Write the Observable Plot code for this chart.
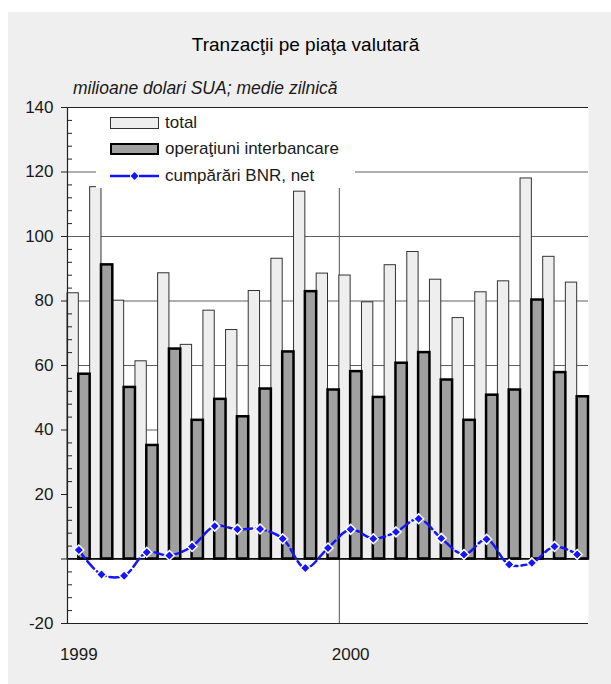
<!DOCTYPE html>
<html><head><meta charset="utf-8">
<script src="https://cdn.jsdelivr.net/npm/d3@7"></script>
<script src="https://cdn.jsdelivr.net/npm/@observablehq/plot@0.6"></script>
<style>
body{margin:0;background:#fff;font-family:"Liberation Sans",Arial,Helvetica,sans-serif;color:#1a1a1a;}
#panel{position:absolute;left:8px;top:12px;width:603px;height:672px;background:#efefef;}
#title{position:absolute;left:0;width:611px;top:33px;text-align:center;font-size:19px;line-height:24px;color:#000;}
#subtitle{position:absolute;left:73px;top:77px;font-size:17.5px;line-height:22px;font-style:italic;}
#chart{position:absolute;left:0;top:0;}
#legend{position:absolute;left:96px;top:108px;width:259px;height:80px;background:#fff;}
.row{position:absolute;left:0;height:20px;line-height:20px;font-size:17px;}
.row span{position:absolute;left:69px;top:0;white-space:nowrap;}
.sw{position:absolute;left:14px;box-sizing:border-box;width:49px;height:12px;top:4px;}
</style></head>
<body>
<div id="panel"></div>
<div id="chart"></div>
<div id="title">Tranzacţii pe piaţa valutară</div>
<div id="subtitle">milioane dolari SUA; medie zilnică</div>
<div id="legend">
  <div class="row" style="top:5px"><div class="sw" style="background:#eeeeee;border:1px solid #333"></div><span>total</span></div>
  <div class="row" style="top:31px"><div class="sw" style="background:#a0a0a0;border:2.5px solid #000"></div><span>operaţiuni interbancare</span></div>
  <div class="row" style="top:58px"><svg class="sw" style="overflow:visible" width="49" height="12"><line x1="0" x2="20" y1="6" y2="6" stroke="#1414ff" stroke-width="2.5"/><line x1="29" x2="49" y1="6" y2="6" stroke="#1414ff" stroke-width="2.5"/><path d="M24.5,2L28.5,6L24.5,10L20.5,6Z" fill="#1414ff"/></svg><span>cumpărări BNR, net</span></div>
</div>
<script>
const months = ["1999-01","1999-02","1999-03","1999-04","1999-05","1999-06","1999-07","1999-08","1999-09","1999-10","1999-11","1999-12",
  "2000-01","2000-02","2000-03","2000-04","2000-05","2000-06","2000-07","2000-08","2000-09","2000-10","2000-11"];
const total = [82.4,115.3,80.1,61.3,88.6,66.4,77.0,71.0,83.1,93.1,113.9,88.5,
  87.9,79.6,91.1,95.2,86.6,74.7,82.7,86.1,118.0,93.7,85.7];
const interbank = [57.3,91.2,53.2,35.2,65.1,43.0,49.5,44.1,52.7,64.2,82.9,52.4,
  58.1,50.1,60.7,64.0,55.5,43.0,50.8,52.4,80.3,57.8,50.3];
const bnrNet = [2.8,-4.8,-5.2,2.1,1.1,3.9,10.2,9.2,9.3,6.3,-2.8,3.4,
  9.2,6.3,8.4,12.5,6.4,1.4,6.1,-1.7,-1.2,3.9,1.4];
const yearLabels = ["1999","2000"];
const yearStart = ["1999-01","2000-01"];
const majorTicks = [-20,0,20,40,60,80,100,120,140];
const gridValues = [20,40,60,80,100,120];
const minorTicks = d3.range(-20,141,4).filter(v => v % 20 !== 0);

const data = months.map((m,i)=>({m,i,total:total[i],inter:interbank[i],bnr:bnrNet[i]}));
const years = yearLabels.map((label,k)=>({label,i:months.indexOf(yearStart[k])}));

const font = "'Liberation Sans', Arial, Helvetica, sans-serif";
const chart = Plot.plot({
  width: 611, height: 684,
  marginTop: 107, marginLeft: 67, marginRight: 23, marginBottom: 61,
  style: {background:"transparent", fontFamily: font, color:"#1a1a1a", overflow:"visible"},
  x: {domain:[0, months.length], axis: null},
  y: {domain:[-20,140]},
  marks: [
    Plot.frame({fill:"white", stroke:null}),
    Plot.ruleY(gridValues, {stroke:"#606060", strokeWidth:1}),
    Plot.ruleX(years.slice(1), {x: d=>d.i, stroke:"#555", strokeWidth:1}),
    Plot.rect(data, {x1: d=>d.i, x2: d=>d.i+0.5, y1: 0, y2: d=>d.total, fill:"#eeeeee", stroke:"#333", strokeWidth:1}),
    Plot.rect(data, {x1: d=>d.i+0.5, x2: d=>d.i+1, y1: 0, y2: d=>d.inter, fill:"#a0a0a0", stroke:"#000", strokeWidth:2.5}),
    Plot.ruleY([0], {stroke:"#000", strokeWidth:1.5}),
    Plot.ruleY([140,-20], {stroke:"#222", strokeWidth:1.2}),
    Plot.ruleX([0], {stroke:"#222", strokeWidth:1.2}),
    Plot.line(data, {x: d=>d.i+0.5, y: "bnr", curve:"catmull-rom", stroke:"#1414ff", strokeWidth:2.5, strokeDasharray:"10,4"}),
    Plot.dot(data, {x: d=>d.i+0.5, y: "bnr", symbol:"diamond2", r:4.5, fill:"#1414ff", stroke:"white", strokeWidth:1.5}),
    Plot.axisY(majorTicks, {tickSize:6, tickPadding:8, fontSize:17, stroke:"#222", tickFormat: d => d===0 ? "" : String(d), label:null}),
    Plot.axisY(minorTicks, {tickSize:5, dx:5, stroke:"#222", tickFormat: () => "", label:null}),
    Plot.text(years, {x: d=>d.i+0.5, text:"label", frameAnchor:"bottom", dy:36, fontSize:17, fill:"#1a1a1a"})
  ]
});
document.getElementById("chart").appendChild(chart);
</script>
</body></html>
